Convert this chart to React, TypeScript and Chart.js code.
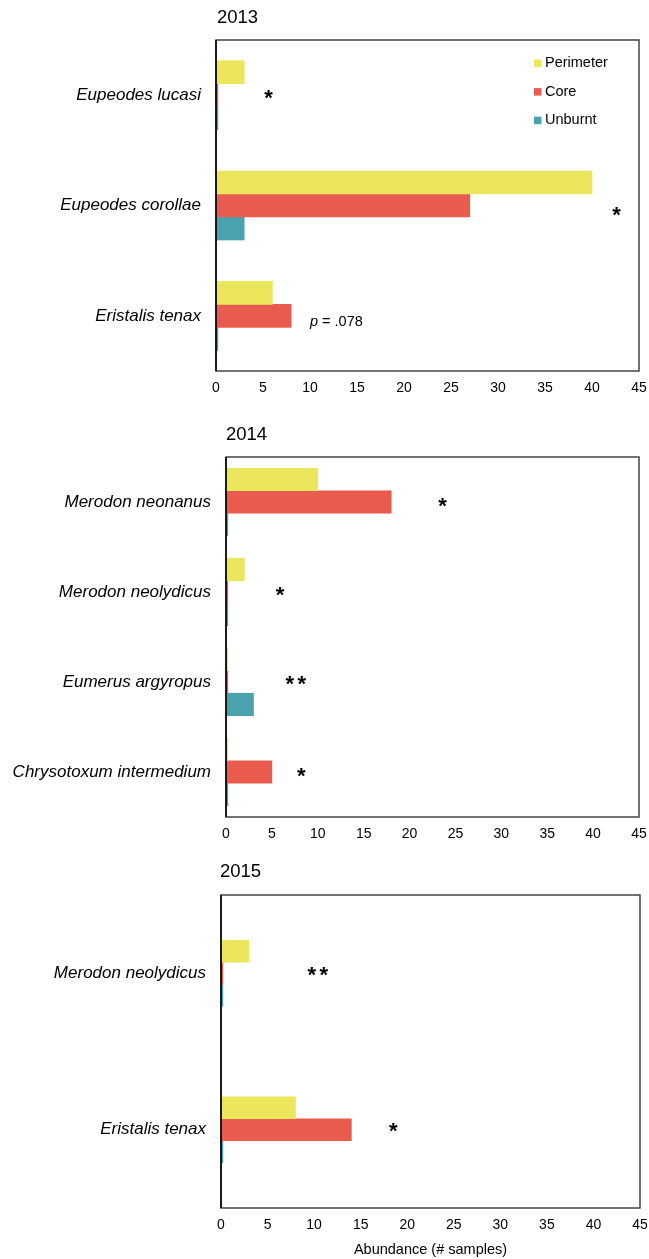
import React, { useEffect, useRef } from "react";
import { Chart, registerables } from "chart.js";

Chart.register(...registerables);

// ---------- data ----------
const seriesNames = ["Perimeter", "Core", "Unburnt"];
const seriesColors = ["#ECE65C", "#EA5B4F", "#4BA2AF"];

const years = ["2013", "2014", "2015"];

const species2013 = ["Eupeodes lucasi", "Eupeodes corollae", "Eristalis tenax"];
const perimeter2013 = [3, 40, 6];
const core2013 = [0.2, 27, 8];
const unburnt2013 = [0.2, 3, 0.2];
const signif2013 = ["*", "*", "p = .078"];

const species2014 = [
  "Merodon neonanus",
  "Merodon neolydicus",
  "Eumerus argyropus",
  "Chrysotoxum intermedium",
];
const perimeter2014 = [10, 2, 0.2, 0.2];
const core2014 = [18, 0.2, 0.2, 5];
const unburnt2014 = [0.2, 0.2, 3, 0.2];
const signif2014 = ["*", "*", "**", "*"];

const species2015 = ["Merodon neolydicus", "Eristalis tenax"];
const perimeter2015 = [3, 8];
const core2015 = [0.2, 14];
const unburnt2015 = [0.2, 0.2];
const signif2015 = ["**", "*"];

const xMin = 0;
const xMax = 45;
const xStep = 5;
const xAxisTitle = "Abundance (# samples)";

// ---------- layout (positions / sizes, kept apart from data) ----------
const W = 649;
const FONT = "'Liberation Sans', Arial, Helvetica, sans-serif";

type PanelLayout = {
  top: number;
  height: number;
  area: { top: number; bottom: number; left: number; right: number };
  bar: number;
  titleX: number;
  titleY: number;
  signifX: number[]; // in data units along x
  signifDy: number[]; // pixel offset from category centre
  legend: boolean;
  axisTitle: boolean;
};

const layouts: PanelLayout[] = [
  {
    top: 0,
    height: 410,
    area: { top: 40, bottom: 371, left: 216, right: 639 },
    bar: 23,
    titleX: 217,
    titleY: 18,
    signifX: [5.6, 42.6, 10.0],
    signifDy: [0.5, 7, 6],
    legend: true,
    axisTitle: false,
  },
  {
    top: 412,
    height: 438,
    area: { top: 45, bottom: 405, left: 226, right: 639 },
    bar: 22.5,
    titleX: 226,
    titleY: 23,
    signifX: [23.6, 5.9, 7.6, 8.2],
    signifDy: [1.5, 0.5, 0, 2],
    legend: false,
    axisTitle: false,
  },
  {
    top: 850,
    height: 409,
    area: { top: 45, bottom: 358, left: 221, right: 640 },
    bar: 22,
    titleX: 220,
    titleY: 22,
    signifX: [10.4, 18.5],
    signifDy: [0, -1],
    legend: false,
    axisTitle: true,
  },
];

const panelData = [
  { title: years[0], cats: species2013, series: [perimeter2013, core2013, unburnt2013], signif: signif2013 },
  { title: years[1], cats: species2014, series: [perimeter2014, core2014, unburnt2014], signif: signif2014 },
  { title: years[2], cats: species2015, series: [perimeter2015, core2015, unburnt2015], signif: signif2015 },
];

function makeOverlay(L: PanelLayout, title: string, signif: string[]) {
  return {
    id: "overlay",
    afterDatasetsDraw(chart: any) {
      const ctx = chart.ctx as CanvasRenderingContext2D;
      const a = chart.chartArea;
      const xs = chart.scales.x;
      const ys = chart.scales.y;
      ctx.save();
      // frame
      ctx.strokeStyle = "#444";
      ctx.lineWidth = 1.5;
      ctx.strokeRect(a.left, a.top, a.right - a.left, a.bottom - a.top);
      ctx.strokeStyle = "#000";
      ctx.beginPath();
      ctx.moveTo(a.left, a.top);
      ctx.lineTo(a.left, a.bottom);
      ctx.stroke();

      // title
      ctx.fillStyle = "#000";
      ctx.font = `18.5px ${FONT}`;
      ctx.textAlign = "left";
      ctx.textBaseline = "middle";
      ctx.fillText(title, L.titleX, L.titleY);

      // significance marks
      signif.forEach((s, i) => {
        const cx = xs.getPixelForValue(L.signifX[i]);
        const cy = ys.getPixelForValue(i) + L.signifDy[i];
        if (s.startsWith("p")) {
          ctx.textAlign = "left";
          ctx.textBaseline = "middle";
          ctx.font = `italic 14.5px ${FONT}`;
          ctx.fillText("p", cx, cy);
          const pw = ctx.measureText("p").width;
          ctx.font = `14.5px ${FONT}`;
          ctx.fillText(s.slice(1), cx + pw, cy);
        } else {
          ctx.font = `bold 22px ${FONT}`;
          ctx.textAlign = "center";
          ctx.textBaseline = "alphabetic";
          const n = s.length;
          const gap = 12;
          for (let k = 0; k < n; k++) {
            const px = cx + (k - (n - 1) / 2) * gap;
            ctx.fillText("*", px, cy + 9);
          }
        }
      });

      // legend
      if (L.legend) {
        const ds = chart.data.datasets;
        ctx.font = `14.5px ${FONT}`;
        ctx.textAlign = "left";
        ctx.textBaseline = "middle";
        ds.forEach((d: any, i: number) => {
          const ly = 63 + i * 28.6;
          ctx.fillStyle = d.backgroundColor;
          ctx.fillRect(534, ly - 3.5, 7.5, 7.5);
          ctx.fillStyle = "#000";
          ctx.fillText(d.label, 545, ly);
        });
      }
      ctx.restore();
    },
  };
}

function Panel({ idx }: { idx: number }) {
  const ref = useRef<HTMLCanvasElement>(null);
  const L = layouts[idx];
  const D = panelData[idx];
  useEffect(() => {
    if (!ref.current) return;
    const chart = new Chart(ref.current, {
      type: "bar",
      data: {
        labels: D.cats,
        datasets: seriesNames.map((n, i) => ({
          label: n,
          data: D.series[i],
          backgroundColor: seriesColors[i],
          borderWidth: 0,
          barThickness: L.bar,
        })),
      },
      options: {
        indexAxis: "y",
        animation: false,
        responsive: false,
        maintainAspectRatio: false,
        devicePixelRatio: 1,
        layout: {
          padding: { top: L.area.top, left: 0, right: W - L.area.right, bottom: 0 },
        },
        plugins: { legend: { display: false }, tooltip: { enabled: false }, title: { display: false } },
        scales: {
          x: {
            type: "linear",
            min: xMin,
            max: xMax,
            grid: { display: false, drawTicks: false },
            border: { display: false },
            ticks: { stepSize: xStep, color: "#000", font: { family: FONT, size: 14 }, padding: 9, maxRotation: 0 },
            title: {
              display: L.axisTitle,
              text: xAxisTitle,
              color: "#000",
              font: { family: FONT, size: 14.5 },
              padding: { top: 9, bottom: 0 },
            },
            afterFit: (s: any) => {
              s.height = L.height - L.area.bottom;
              s.paddingLeft = 0;
              s.paddingRight = 0;
            },
          },
          y: {
            type: "category",
            grid: { display: false, drawTicks: false },
            border: { display: false },
            ticks: { color: "#000", font: { family: FONT, size: 17, style: "italic" }, padding: 15, autoSkip: false },
            afterFit: (s: any) => {
              s.width = L.area.left;
              s.paddingTop = 0;
              s.paddingBottom = 0;
            },
          },
        },
      },
      plugins: [makeOverlay(L, D.title, D.signif)],
    } as any);
    return () => chart.destroy();
  }, []);
  return (
    <canvas
      ref={ref}
      width={W}
      height={L.height}
      style={{ position: "absolute", left: 0, top: L.top, width: W, height: L.height }}
    />
  );
}

export default function App() {
  return (
    <div style={{ position: "absolute", left: 0, top: 0, width: W, height: 1259, background: "#fff" }}>
      {layouts.map((_, i) => (
        <Panel key={i} idx={i} />
      ))}
    </div>
  );
}
